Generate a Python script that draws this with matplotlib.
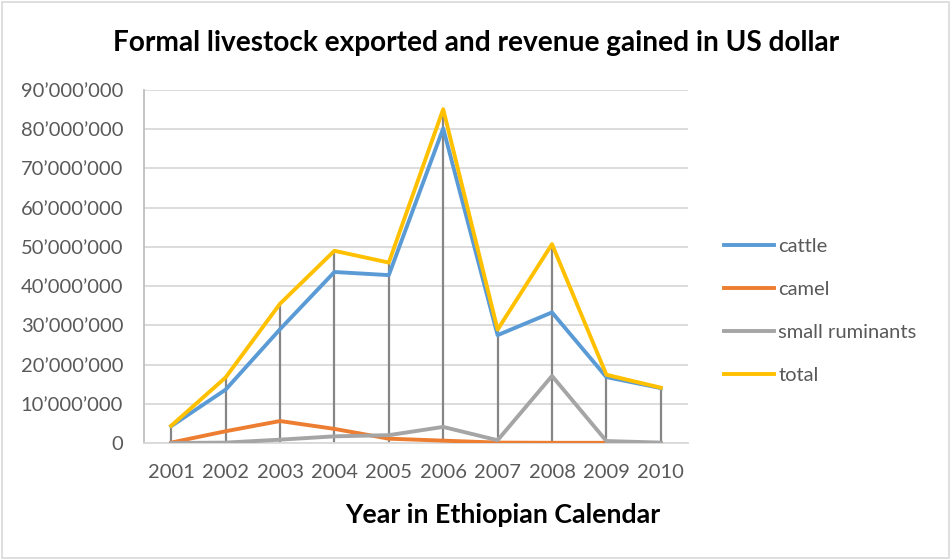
import matplotlib
matplotlib.use("Agg")
import matplotlib.pyplot as plt
from matplotlib.patches import Rectangle
from matplotlib.ticker import FuncFormatter

years = ["2001", "2002", "2003", "2004", "2005", "2006", "2007", "2008", "2009", "2010"]
cattle = [4.3e6, 13.6e6, 29.0e6, 43.6e6, 42.8e6, 80.2e6, 27.5e6, 33.3e6, 16.8e6, 14.0e6]
camel = [0.1e6, 3.0e6, 5.6e6, 3.6e6, 1.1e6, 0.6e6, 0.1e6, 0.05e6, 0.05e6, 0.0e6]
small_ruminants = [0.0e6, 0.1e6, 0.85e6, 1.7e6, 2.0e6, 4.1e6, 0.7e6, 17.1e6, 0.5e6, 0.1e6]
total = [4.4e6, 16.7e6, 35.5e6, 49.0e6, 46.0e6, 85.1e6, 28.9e6, 50.7e6, 17.4e6, 14.1e6]

plt.rcParams['font.family'] = ['Lato', 'DejaVu Sans']

fig = plt.figure(figsize=(9.53, 5.6), dpi=100)
W, H = 953, 560
ax = fig.add_axes([144 / W, 1 - 443 / H, (688 - 144) / W, (443 - 90) / H])

x = list(range(1, len(years) + 1))

# drop lines
ax.vlines(x, 0, total, color="#868686", lw=1.6, zorder=2)

ax.plot(x, cattle, color="#5B9BD5", lw=2.8, label="cattle", zorder=3)
ax.plot(x, camel, color="#ED7D31", lw=2.8, label="camel", zorder=3)
ax.plot(x, small_ruminants, color="#A5A5A5", lw=2.8, label="small ruminants", zorder=3)
ax.plot(x, total, color="#FFC000", lw=2.8, label="total", zorder=4)

ax.set_xlim(0.5, len(years) + 0.5)
ax.set_ylim(0, 90e6)
ax.set_yticks([i * 10e6 for i in range(10)])

def fmt(v, pos):
    n = int(round(v))
    if n == 0:
        return "0"
    return f"{n:,}".replace(",", "\u2019")

ax.yaxis.set_major_formatter(FuncFormatter(fmt))
ax.set_xticks(x)
ax.set_xticklabels(years)
ax.grid(axis="y", color="#D9D9D9", lw=1.3, zorder=0)
ax.set_axisbelow(True)
for s in ["top", "right"]:
    ax.spines[s].set_visible(False)
ax.spines["left"].set_color("#BFBFBF")
ax.spines["left"].set_linewidth(1.3)
ax.spines["bottom"].set_color("#D9D9D9")
ax.spines["bottom"].set_linewidth(1.3)
ax.tick_params(axis="both", length=0, labelsize=14.5, colors="#595959")
ax.tick_params(axis="x", pad=15)
ax.tick_params(axis="y", pad=15)

fig.text(476 / W, 1 - 43 / H, "Formal livestock exported and revenue gained in US dollar",
         ha="center", va="center", fontsize=20.2, fontweight="bold", color="black")
fig.text(503 / W, 1 - 515 / H, "Year in Ethiopian Calendar",
         ha="center", va="center", fontsize=19.3, fontweight="bold", color="black")

leg = ax.legend(loc="center left", bbox_to_anchor=(724 / W, 1 - 311 / H), bbox_transform=fig.transFigure,
                frameon=False, fontsize=14.5, handlelength=2.5, handletextpad=0.2, labelspacing=1.3,
                borderaxespad=0, borderpad=0)
for t in leg.get_texts():
    t.set_color("#595959")

fig.patches.append(Rectangle((2 / W, 2 / H), 947 / W, 1 - 4 / H, transform=fig.transFigure,
                             fill=False, edgecolor="#D9D9D9", lw=1.2))

fig.savefig("out.png", dpi=100)
